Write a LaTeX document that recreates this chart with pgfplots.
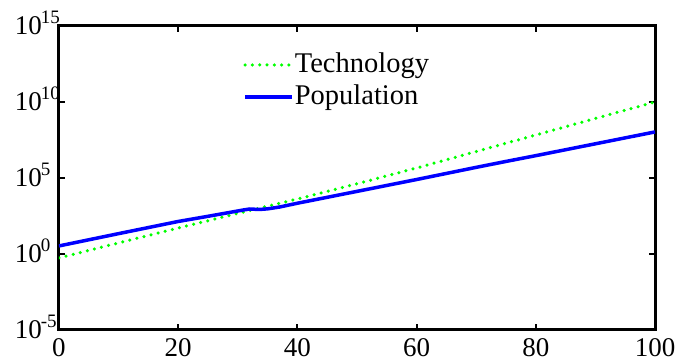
\documentclass[border=0pt]{standalone}
\usepackage{pgfplots}
\pgfplotsset{compat=1.18}
\usepackage{fontspec}
\setmainfont{Liberation Serif}

\definecolor{techgreen}{rgb}{0,1,0}
\definecolor{popblue}{rgb}{0,0,1}

% power-of-ten tick label with a raised exponent
\newcommand{\pow}[1]{\makebox[44pt][l]{10\kern-1pt\smash{\raisebox{11pt}{\fontsize{19}{19}\selectfont #1}}}}

\pgfplotstableread{
x   y
0   0.5495
10  5.370
20  51.29
30  467.7
40  4169
50  41690
60  4.571e5
70  5.495e6
80  6.761e7
90  8.318e8
100 1e10
}\technology

\pgfplotstableread{
x   y
0   3.388
5   8.610
10  21.88
15  54.95
20  138.0
25  302.0
28  489.8
30  676.1
31  794.3
32  912.0
33  871.0
34  871.0
35  933.3
36  1072
37  1230
40  2188
45  5370
50  13180
55  32360
60  79430
65  1.995e5
70  5.012e5
75  1.230e6
80  2.951e6
85  7.244e6
90  1.778e7
95  4.365e7
100 1.072e8
}\population

\begin{document}
\fontsize{27}{32}\selectfont
\begin{tikzpicture}
\useasboundingbox (-59pt,-33pt) rectangle (626pt,330pt);
\begin{axis}[
  at={(0pt,0pt)}, anchor=south west,
  scale only axis, width=596pt, height=304pt,
  ymode=log,
  xmin=0, xmax=100, ymin=1e-5, ymax=1e15,
  xtick={0,20,...,100},
  ytick={1e-5,1,1e5,1e10,1e15},
  yticklabels={\pow{-5},\pow{0},\pow{5},\pow{10},\pow{15}},
  yminorticks=false, xminorticks=false,
  tick align=inside,
  major tick length=6pt,
  every tick/.style={black, line width=2pt},
  axis line style={line width=3pt},
  /pgf/number format/assume math mode=true,
  yticklabel style={anchor=east, inner sep=0pt, xshift=0pt},
  xticklabel style={inner sep=2pt, yshift=-6pt},
  legend cell align=left,
  legend style={draw=none, fill=none, at={(0.309,0.915)}, anchor=north west,
    inner sep=0pt, row sep=6pt,
    font=\fontsize{28.5}{32}\selectfont,
    nodes={inner sep=1pt},
    cells={xshift=4pt}},
  legend image code/.code={\draw[#1] (-4pt,0pt) -- (43pt,0pt);},
]
\addplot[techgreen, line width=3.5pt, line cap=round, dash pattern=on 0pt off 7.3pt]
  table[x=x, y=y] {\technology};
\addlegendentry{Technology}
\addplot[popblue, line width=3.5pt]
  table[x=x, y=y] {\population};
\addlegendentry{Population}
\end{axis}
\end{tikzpicture}
\end{document}
